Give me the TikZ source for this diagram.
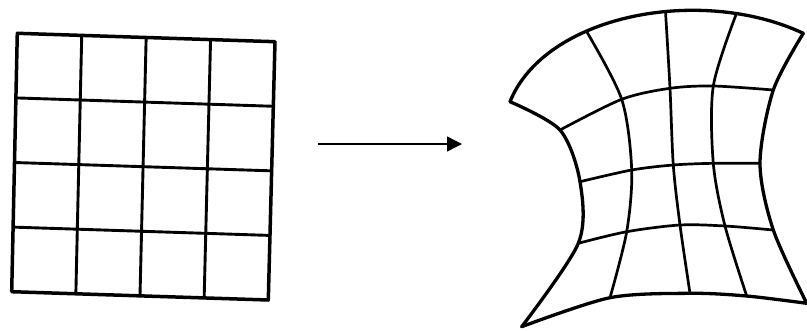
\documentclass[tikz,border=0pt]{standalone}
\usepackage{tikz}
\usetikzlibrary{arrows.meta,calc}

\begin{document}
\begin{tikzpicture}[
x=1pt, y=-1pt,
rim/.style={line width=3.5pt, line join=round, line cap=round},
cell/.style={line width=2.9pt, line cap=round},
warprim/.style={line width=3.3pt, line cap=round},
warp/.style={line width=2.7pt, line cap=round},
arr/.style={-{Triangle[length=15pt,width=15pt]}, line width=1.4pt}
]
\useasboundingbox (0,0) rectangle (807,330);

% left: plain square grid
\coordinate (tl) at (17.3,33.3);
\coordinate (tr) at (275,41.7);
\coordinate (br) at (268.3,300);
\coordinate (bl) at (11.7,291.7);
\foreach \t in {0.25,0.5,0.75} {
  \draw[cell] ($(tl)!\t!(tr)$) -- ($(bl)!\t!(br)$);
  \draw[cell] ($(tl)!\t!(bl)$) -- ($(tr)!\t!(br)$);
}
\draw[rim] (tl) -- (tr) -- (br) -- (bl) -- cycle;

% arrow
\coordinate (start) at (318,144);
\coordinate (stop) at (462,144);
\draw[arr] (start) -- (stop);

% right: warped grid
\coordinate (wtl) at (510,101.7);
\coordinate (wtr) at (803.3,33.3);
\draw[warprim] (wtl) .. controls (545,15) and (700,-15) .. (wtr);
\draw[warprim] plot[smooth] coordinates {(521.7,326.7) (610,297.7) (690,293.3) (746.7,296) (806.7,303.3)};
\draw[warprim] plot[smooth] coordinates {(510,101.7) (560,130) (580,181.7) (578.3,243.3) (521.7,326.7)};
\draw[warprim] plot[smooth] coordinates {(803.3,33.3) (773.3,90) (760,163.3) (773.3,230) (806.7,303.3)};
\draw[warp] plot[smooth] coordinates {(560,130) (621.7,99.3) (670,88.3) (713.3,86) (773.3,90)};
\draw[warp] plot[smooth] coordinates {(580,181.7) (631.7,170) (673.3,165) (713.3,163.3) (760,163.3)};
\draw[warp] plot[smooth] coordinates {(578.3,243.3) (626.7,231.7) (680,225) (725,226) (773.3,230)};
\draw[warp] plot[smooth] coordinates {(586.4,31.1) (621.7,99.3) (631.7,170) (626.7,231.7) (610,297.7)};
\draw[warp] plot[smooth] coordinates {(665.5,11.5) (670,88.3) (673.3,165) (680,225) (690,293.3)};
\draw[warp] plot[smooth] coordinates {(736.5,13.4) (713.3,86) (713.3,163.3) (725,226) (746.7,296)};
\end{tikzpicture}
\end{document}
